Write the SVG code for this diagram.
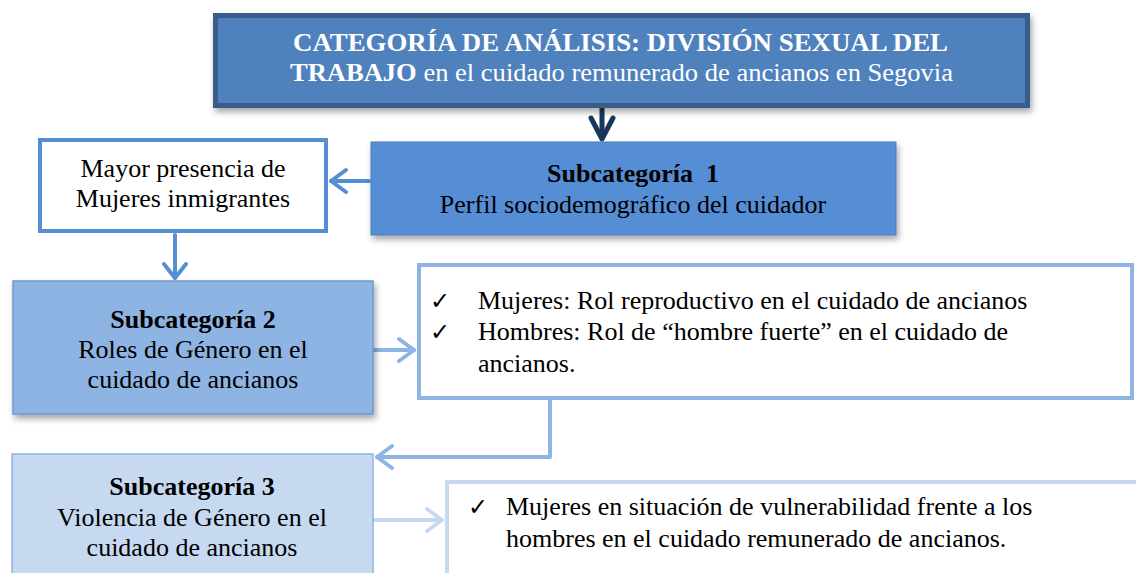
<svg xmlns="http://www.w3.org/2000/svg" width="1136" height="573" viewBox="0 0 1136 573">
<defs>
<filter id="sh" x="-10%" y="-10%" width="120%" height="130%">
<feDropShadow dx="2" dy="4" stdDeviation="3" flood-color="#000" flood-opacity="0.35"/>
</filter>
<style>
text{font-family:"Liberation Serif","Times New Roman",serif;font-size:26px;fill:#000}
.b{font-weight:bold}
.w{fill:#fff}
.ck{font-family:"DejaVu Sans",sans-serif;font-size:24px}
.c{text-anchor:middle}
.ln{fill:none;stroke-linecap:round;stroke-linejoin:round}
</style>
</defs>
<rect width="1136" height="573" fill="#fff"/>

<g id="connectors">
<g stroke="#17375e" stroke-width="5" class="ln">
<line x1="602" y1="108" x2="602" y2="138"/>
<polyline points="591,118 602,139 613,118"/>
</g>
<g stroke="#558ed5" stroke-width="4" class="ln">
<line x1="369" y1="181" x2="331" y2="181"/>
<polyline points="346,170 331,181 346,192"/>
<line x1="175" y1="235" x2="175" y2="278"/>
<polyline points="164,264 175,278 186,264"/>
</g>
<g stroke="#8eb4e3" stroke-width="4" class="ln">
<line x1="374" y1="350" x2="414" y2="350"/>
<polyline points="399,339 414,350 399,361"/>
<polyline points="550,400 550,457 377,457"/>
<polyline points="392,446 377,457 392,468"/>
</g>
<g stroke="#c6d9f1" stroke-width="4" class="ln">
<line x1="374" y1="520" x2="442" y2="520"/>
<polyline points="427,509 442,520 427,531"/>
</g>
</g>

<g id="top">
<rect x="215.5" y="15.5" width="812" height="90" fill="#4f81bd" stroke="#385d8a" stroke-width="5" filter="url(#sh)"/>
<text class="w b" x="293" y="51" font-size="24" textLength="655" lengthAdjust="spacingAndGlyphs">CATEGORÍA DE ANÁLISIS: DIVISIÓN SEXUAL DEL</text>
<text class="w" x="290" y="81" font-size="24" textLength="663" lengthAdjust="spacingAndGlyphs"><tspan class="b">TRABAJO</tspan> en el cuidado remunerado de ancianos en Segovia</text>
</g>

<g id="sub1">
<rect x="371" y="142" width="525" height="93" fill="#558ed5" stroke="#4a7ebb" stroke-width="1" filter="url(#sh)"/>
<text class="c b" x="633" y="182">Subcategoría&#160; 1</text>
<text class="c" x="633" y="213">Perfil sociodemográfico del cuidador</text>
</g>

<g id="mayor">
<rect x="40" y="140" width="286" height="91" fill="#fff" stroke="#558ed5" stroke-width="4"/>
<text class="c" x="183" y="177">Mayor presencia de</text>
<text class="c" x="183" y="207">Mujeres inmigrantes</text>
</g>

<g id="sub2">
<rect x="13" y="281" width="360" height="133" fill="#8eb4e3" stroke="#6e98cc" stroke-width="1.5" filter="url(#sh)"/>
<text class="c b" x="193" y="328">Subcategoría 2</text>
<text class="c" x="193" y="358">Roles de Género en el</text>
<text class="c" x="193" y="388">cuidado de ancianos</text>
</g>

<g id="roles">
<rect x="419" y="265" width="713" height="133" fill="#fff" stroke="#8eb4e3" stroke-width="4"/>
<text class="ck" x="430" y="309">✓</text>
<text x="478" y="309">Mujeres: Rol reproductivo en el cuidado de ancianos</text>
<text class="ck" x="430" y="340">✓</text>
<text x="478" y="340">Hombres: Rol de “hombre fuerte” en el cuidado de</text>
<text x="478" y="372">ancianos.</text>
</g>

<g id="sub3">
<rect x="12" y="454" width="361" height="130" fill="#c6d9f1" stroke="#8eb4e3" stroke-width="1.5"/>
<text class="c b" x="192" y="495">Subcategoría 3</text>
<text class="c" x="192" y="526">Violencia de Género en el</text>
<text class="c" x="192" y="556">cuidado de ancianos</text>
</g>

<g id="violencia">
<rect x="447" y="482" width="700" height="120" fill="#fff" stroke="#c6d9f1" stroke-width="4"/>
<text class="ck" x="468" y="515">✓</text>
<text x="506" y="515">Mujeres en situación de vulnerabilidad frente a los</text>
<text x="506" y="547">hombres en el cuidado remunerado de ancianos.</text>
</g>
</svg>
